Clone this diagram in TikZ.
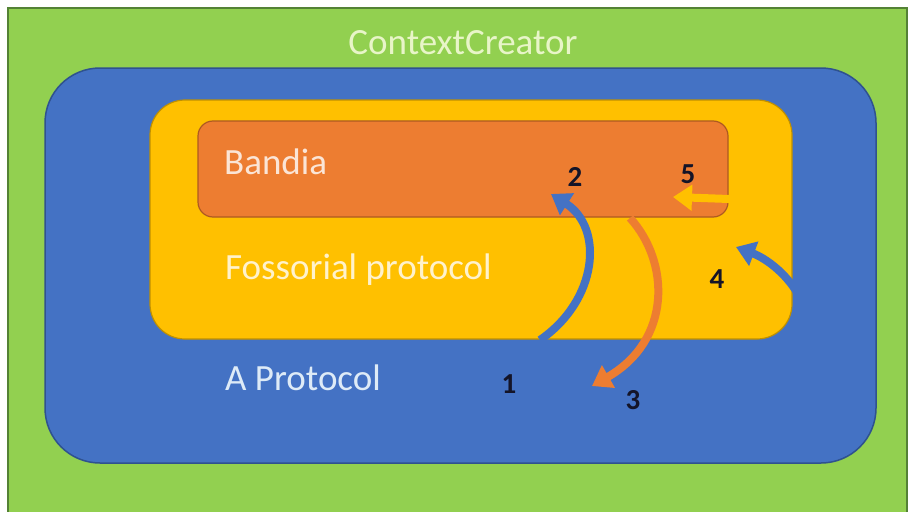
\documentclass[tikz,border=0pt]{standalone}
\usepackage{fontspec}
\setmainfont{Carlito}
\usetikzlibrary{arrows.meta}
\definecolor{cgreen}{HTML}{92D050}
\definecolor{cgreenD}{HTML}{548235}
\definecolor{cblue}{HTML}{4472C4}
\definecolor{cblueD}{HTML}{2F528F}
\definecolor{cyellow}{HTML}{FFC000}
\definecolor{cyellowD}{HTML}{C09000}
\definecolor{corange}{HTML}{ED7D31}
\definecolor{corangeD}{HTML}{AE5A21}
\definecolor{tgreen}{HTML}{E8F5C8}
\definecolor{torange}{HTML}{FBE5D6}
\definecolor{tyellow}{HTML}{FFF2CC}
\definecolor{tblue}{HTML}{DEEBF7}
\definecolor{numc}{HTML}{141428}
\begin{document}
\begin{tikzpicture}[x=1pt,y=-1pt,
  lbl/.style={font=\fontsize{37}{42}\selectfont, inner sep=0pt},
  num/.style={font=\fontsize{29}{33}\selectfont\bfseries, text=numc, inner sep=0pt},
  arr/.style={line width=8pt, -{Triangle[width=25pt,length=19pt]}},
]
\useasboundingbox (0,0) rectangle (909,511);
\fill[white] (0,0) rectangle (909,511);
% green background
\draw[fill=cgreen, draw=cgreenD, line width=2pt] (8,8) rectangle (907,520);
% blue
\draw[fill=cblue, draw=cblueD, line width=1.5pt, rounded corners=55pt] (45,68) rectangle (876,463);
% yellow
\draw[fill=cyellow, draw=cyellowD, line width=1.2pt, rounded corners=35pt] (150,100) rectangle (792,339);
% orange
\draw[fill=corange, draw=corangeD, line width=1.2pt, rounded corners=15pt] (198,121) rectangle (728,217);

% texts
\node[lbl, text=tgreen] (cc) at (463,43) {ContextCreator};
\node[lbl, text=torange, anchor=west] (bandia) at (224,162) {Bandia};
\node[lbl, text=tyellow, anchor=west] (foss) at (225,270) {Fossorial protocol};
\node[lbl, text=tblue, anchor=west] (aprot) at (225,378) {A Protocol};

% numbers
\node[num] (n1) at (509,384) {1};
\node[num] (n2) at (575,177) {2};
\node[num] (n3) at (633,400) {3};
\node[num] (n4) at (717,279) {4};
\node[num] (n5) at (688,174) {5};

% arrow ends
\coordinate (a1s) at (540,340);
\coordinate (a1e) at (551,194);
\coordinate (a3s) at (630,218);
\coordinate (a3e) at (592,386);
\coordinate (a4s) at (798,294);
\coordinate (a4e) at (736,247);
\coordinate (a5s) at (729,199);
\coordinate (a5e) at (673,197);

\draw[arr, cblue] (a1s) .. controls (598,300) and (604,228) .. (a1e);
\draw[arr, corange] (a3s) .. controls (670,262) and (672,340) .. (a3e);
\draw[arr, cblue] (a4s) .. controls (785,272) and (765,258) .. (a4e);
\draw[arr, cyellow] (a5s) -- (a5e);
\end{tikzpicture}
\end{document}
